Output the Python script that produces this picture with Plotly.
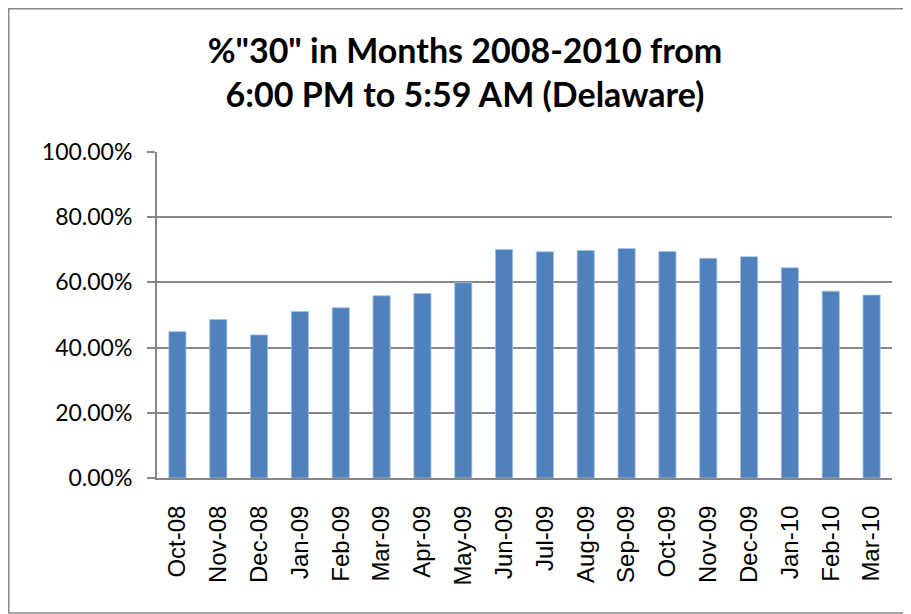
import plotly.graph_objects as go

months = ["Oct-08", "Nov-08", "Dec-08", "Jan-09", "Feb-09", "Mar-09", "Apr-09", "May-09",
          "Jun-09", "Jul-09", "Aug-09", "Sep-09", "Oct-09", "Nov-09", "Dec-09", "Jan-10",
          "Feb-10", "Mar-10"]
pct_30 = [0.449, 0.486, 0.439, 0.511, 0.522, 0.559, 0.566, 0.599,
          0.701, 0.694, 0.698, 0.704, 0.695, 0.674, 0.679, 0.645,
          0.573, 0.561]
y_ticks = [0, 0.2, 0.4, 0.6, 0.8, 1.0]

# page body has an 8px default margin, so the figure is sized to fit the window
W, H = 903, 606
ML, MR, MT, MB = 149, 19, 144, 136
PW, PH = W - ML - MR, H - MT - MB

fig = go.Figure(go.Bar(
    x=months, y=pct_30,
    marker=dict(color="#4F81BD", line=dict(color="#A7C0DE", width=0.8)),
    width=0.42,
))

fig.update_layout(
    width=W, height=H,
    margin=dict(l=ML, r=MR, t=MT, b=MB, autoexpand=False),
    paper_bgcolor="white", plot_bgcolor="white",
    showlegend=False,
    title=dict(
        text='<b>%"30" in Months 2008-2010 from<br>6:00 PM to 5:59 AM (Delaware)</b>',
        font=dict(family="Lato", size=34, color="black"),
        x=457 / W, xanchor="center", xref="container",
        y=1 - 55 / H, yanchor="top", yref="container",
    ),
    xaxis=dict(
        type="category",
        tickangle=-90,
        tickfont=dict(family="Liberation Sans", size=24, color="black"),
        showline=True, linecolor="#868686", linewidth=2,
        ticks="", showgrid=False,
        ticklabelstandoff=16,
        range=[-0.5, len(months) - 0.5],
    ),
    yaxis=dict(
        range=[0, 1.0],
        tickvals=y_ticks,
        tickformat=".2%",
        tickfont=dict(family="Lato", size=23, color="black"),
        showline=True, linecolor="#868686", linewidth=2,
        ticks="outside", ticklen=8, tickcolor="#868686", tickwidth=2,
        showgrid=True, gridcolor="#868686", gridwidth=2,
        zeroline=False,
        ticklabelstandoff=10,
    ),
    shapes=[dict(
        type="rect", xref="paper", yref="paper",
        x0=(0.75 - ML) / PW, x1=(899 - ML) / PW,
        y0=(H - MB - 605) / PH, y1=(H - MB - 0.75) / PH,
        line=dict(color="#888888", width=1.5), layer="below",
    )],
)

fig.write_html("out.html")
